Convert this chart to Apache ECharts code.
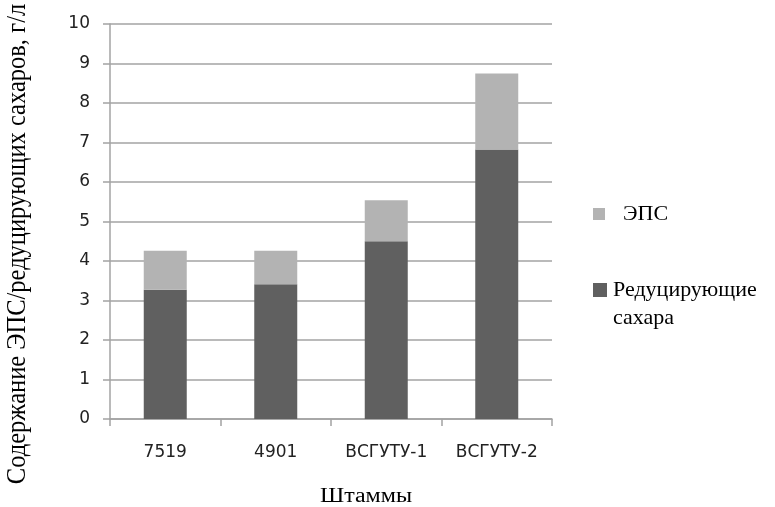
<!DOCTYPE html>
<html>
<head>
<meta charset="utf-8">
<script src="https://cdn.jsdelivr.net/npm/echarts@6/dist/echarts.min.js"></script>
<style>
  html, body { margin: 0; padding: 0; background: #ffffff; }
  #chart { width: 775px; height: 507px; }
</style>
</head>
<body>
<div id="chart"></div>
<script>
// Strains on the category axis
const strains = ['7519', '4901', 'ВСГУТУ-1', 'ВСГУТУ-2'];
// Reducing sugars, g/l (lower part of each stack)
const reducingSugars = [3.27, 3.41, 4.50, 6.82];
// EPS, g/l (upper part of each stack)
const eps = [0.99, 0.85, 1.04, 1.93];

const seriesNames = ['ЭПС', 'Редуцирующие\nсахара'];
const yTitle = 'Содержание ЭПС/редуцирующих сахаров, г/л';
const xTitle = 'Штаммы';

const serif = '"Liberation Serif", "DejaVu Serif", serif';
const sans = '"DejaVu Sans", Verdana, sans-serif';
const axisGrey = '#a3a3a3';

const chart = echarts.init(document.getElementById('chart'), null, { renderer: 'canvas' });

chart.setOption({
  animation: false,
  backgroundColor: '#ffffff',
  grid: { left: 110, right: 223, top: 24, bottom: 88, containLabel: false },
  legend: [
    {
      data: [seriesNames[0]],
      left: 593, top: 200, padding: 0,
      itemWidth: 12, itemHeight: 12, icon: 'rect',
      textStyle: { fontFamily: serif, fontSize: 22, color: '#000', lineHeight: 28, padding: [0, 0, 0, 13] }
    },
    {
      data: [seriesNames[1]],
      left: 593, top: 248, padding: 0,
      itemWidth: 14, itemHeight: 14, icon: 'rect',
      // a leading blank line keeps the marker level with the first text line
      formatter: name => '\n' + name,
      textStyle: { fontFamily: serif, fontSize: 22, color: '#000', lineHeight: 28, padding: [0, 0, 0, 1] }
    }
  ],
  xAxis: {
    type: 'category',
    data: strains,
    axisLine: { lineStyle: { color: axisGrey, width: 1.5 } },
    axisTick: { show: true, length: 7, lineStyle: { color: axisGrey, width: 1.5 } },
    axisLabel: { fontFamily: sans, fontSize: 17, color: '#222', margin: 25 }
  },
  yAxis: {
    type: 'value',
    min: 0, max: 10, interval: 1,
    axisLine: { show: true, lineStyle: { color: axisGrey, width: 1.5 } },
    axisTick: { show: true, length: 7, lineStyle: { color: axisGrey, width: 1.5 } },
    axisLabel: { fontFamily: sans, fontSize: 17, color: '#222', margin: 20 },
    splitLine: { show: true, lineStyle: { color: axisGrey, width: 1.5 } }
  },
  graphic: [
    {
      type: 'text',
      x: 18, y: 244, rotation: Math.PI / 2, scaleY: 1.15,
      style: {
        text: yTitle, fontFamily: serif, fontSize: 24.5, fill: '#000',
        align: 'center', verticalAlign: 'middle'
      }
    },
    {
      type: 'text',
      x: 366, y: 497, scaleX: 1.2,
      style: {
        text: xTitle, fontFamily: serif, fontSize: 20, fill: '#000',
        align: 'center', verticalAlign: 'middle'
      }
    }
  ],
  series: [
    {
      name: seriesNames[1],
      type: 'bar',
      stack: 'total',
      data: reducingSugars,
      barWidth: 43,
      itemStyle: { color: '#606060' }
    },
    {
      name: seriesNames[0],
      type: 'bar',
      stack: 'total',
      data: eps,
      barWidth: 43,
      itemStyle: { color: '#b3b3b3' }
    }
  ]
});
</script>
</body>
</html>
